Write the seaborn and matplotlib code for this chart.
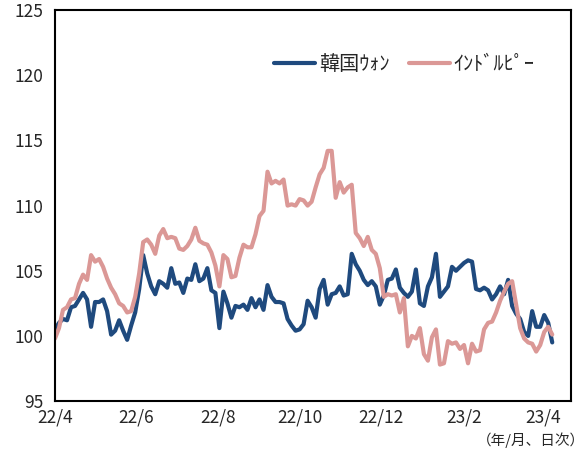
import seaborn as sns
import pandas as pd
import matplotlib.pyplot as plt

# data (index, 2022/4/1 = 100), one value every 3 days
start_date = "2022-04-01"
krw = [100.5, 101.0, 101.3, 101.2, 102.2, 102.3, 102.8, 103.3, 102.8, 100.7,
       102.6, 102.6, 102.8, 101.9, 100.1, 100.4, 101.2, 100.4, 99.7, 100.8,
       101.8, 103.6, 106.2, 104.8, 103.8, 103.2, 104.2, 104.0, 103.7, 105.2,
       104.0, 104.1, 103.3, 104.4, 104.3, 105.5, 104.2, 104.4, 105.2, 103.5,
       103.3, 100.6, 103.4, 102.5, 101.4, 102.3, 102.2, 102.4, 102.0, 102.9,
       102.2, 102.8, 102.0, 103.9, 103.0, 102.6, 102.6, 102.5, 101.3, 100.8,
       100.4, 100.5, 100.9, 102.7, 102.2, 101.4, 103.6, 104.3, 102.4, 103.2,
       103.3, 103.8, 103.1, 103.2, 106.3, 105.5, 105.0, 104.3, 103.9, 104.2,
       103.8, 102.4, 103.1, 104.3, 104.4, 105.1, 103.7, 103.3, 103.0, 103.4,
       105.1, 102.5, 102.3, 103.8, 104.5, 106.3, 103.0, 103.4, 103.8, 105.3,
       105.0, 105.3, 105.6, 105.8, 105.7, 103.6, 103.5, 103.7, 103.5, 102.8,
       103.2, 103.8, 103.2, 104.3, 102.3, 101.7, 101.3, 100.3, 100.0, 101.9,
       100.7, 100.7, 101.6, 101.0, 99.5]
inr = [99.8, 100.6, 102.0, 102.2, 102.8, 102.9, 104.0, 104.7, 104.3, 106.2,
       105.7, 105.9, 105.3, 104.4, 103.7, 103.2, 102.5, 102.3, 101.8, 101.9,
       103.0, 104.8, 107.2, 107.4, 107.0, 106.3, 107.7, 108.2, 107.5, 107.6,
       107.5, 106.7, 106.6, 106.9, 107.4, 108.3, 107.3, 107.1, 107.0, 106.4,
       105.4, 103.8, 106.2, 105.9, 104.5, 104.6, 106.0, 107.0, 106.8, 106.8,
       107.8, 109.2, 109.6, 112.6, 111.7, 111.9, 111.7, 112.0, 110.0, 110.1,
       110.0, 110.5, 110.4, 110.0, 110.3, 111.4, 112.4, 112.9, 114.2, 114.2,
       110.6, 111.8, 111.0, 111.4, 111.6, 107.9, 107.5, 106.9, 107.6, 106.6,
       106.3, 105.2, 103.0, 103.2, 103.1, 103.2, 101.8, 102.9, 99.2, 100.0,
       99.8, 100.6, 98.6, 98.1, 99.9, 100.5, 97.8, 97.9, 99.6, 99.4,
       99.5, 99.0, 99.3, 97.9, 99.4, 98.8, 98.9, 100.5, 101.0, 101.1,
       101.8, 102.7, 103.4, 104.0, 104.2, 102.4, 100.6, 99.8, 99.5, 99.4,
       98.8, 99.3, 100.3, 100.7, 100.1]
series_names = ["韓国ｳｫﾝ", "ｲﾝﾄﾞﾙﾋﾟｰ"]
tick_labels = ["22/4", "22/6", "22/8", "22/10", "22/12", "23/2", "23/4"]
y_ticks = [95, 100, 105, 110, 115, 120, 125]

dates = pd.date_range(start_date, periods=len(krw), freq="3D")
df = pd.DataFrame({
    "date": list(dates) * 2,
    "value": krw + inr,
    "currency": [series_names[0]] * len(krw) + [series_names[1]] * len(inr),
})

sns.set_style("white")
plt.rcParams["font.family"] = ["Noto Sans CJK JP", "DejaVu Sans"]

fig = plt.figure(figsize=(5.88, 4.61), dpi=100)
ax = fig.add_axes([0.0935, 0.130, 0.8775, 0.848])

sns.lineplot(data=df, x="date", y="value", hue="currency",
             palette=["#1F4A7E", "#DB9896"], linewidth=3, ax=ax)

ax.set_xlim(pd.Timestamp("2022-04-01"), pd.Timestamp("2023-04-22"))
ax.set_ylim(95, 125)
ax.set_yticks(y_ticks)
ax.set_yticklabels([str(v) for v in y_ticks], fontsize=12.5)
ax.set_xticks(pd.date_range("2022-04-01", "2023-04-01", freq="2MS"))
ax.set_xticklabels(tick_labels, fontsize=12.5)
ax.tick_params(axis="x", direction="in", length=6, width=1, pad=5)
ax.tick_params(axis="y", direction="out", length=5, width=1, pad=3)
ax.set_xlabel("")
ax.set_ylabel("")
for s in ax.spines.values():
    s.set_color("black")
    s.set_linewidth(1.5)

ax.legend(loc="upper right", bbox_to_anchor=(0.965, 0.935), ncol=2, frameon=False,
          fontsize=14.5, handlelength=2.0, columnspacing=1.0, handletextpad=0.2)

fig.text(0.995, 0.045, "（年/月、日次）", ha="right", va="center", fontsize=10.5)

fig.savefig("out.png", dpi=100)
